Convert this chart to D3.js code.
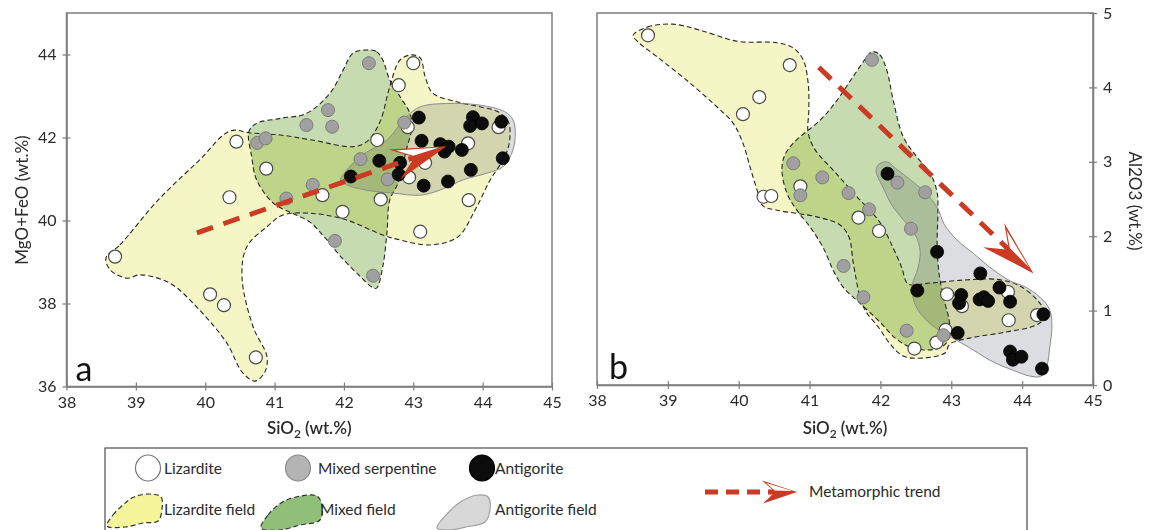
<!DOCTYPE html>
<html>
<head>
<meta charset="utf-8">
<script src="https://cdn.jsdelivr.net/npm/d3@7"></script>
<style>
  body { margin: 0; background: #fff; }
  svg { display: block; font-family: Lato, "Open Sans", "DejaVu Sans", sans-serif; }
</style>
</head>
<body>
<svg id="chart" width="1150" height="530"></svg>
<script>
// ---- axis ticks ----
const xTicks = [38, 39, 40, 41, 42, 43, 44, 45];
const yTicksA = [36, 38, 40, 42, 44];
const yTicksB = [0, 1, 2, 3, 4, 5];

// ---- panel a: SiO2 vs MgO+FeO (wt.%) ----
const lizarditeA = [[38.70,39.13],[40.07,38.22],[40.27,37.96],[40.73,36.70],[40.45,41.90],[40.88,41.25],
  [40.35,40.56],[41.69,40.61],[41.98,40.21],[42.48,41.94],[42.53,40.51],[43.00,43.79],[42.79,43.26],
  [42.92,42.25],[43.17,41.39],[42.94,41.04],[43.79,41.86],[44.23,42.25],[43.80,40.49],[43.10,39.73]];
const mixedA = [[42.36,43.79],[41.77,42.66],[41.46,42.30],[41.83,42.26],[40.75,41.87],[40.87,41.98],
  [42.87,42.36],[42.24,41.48],[41.55,40.86],[41.17,40.53],[42.63,40.99],[41.87,39.51],[42.42,38.67]];
const antigoriteA = [[42.10,41.06],[42.51,41.44],[42.81,41.39],[42.79,41.11],[43.08,42.48],[43.12,41.92],
  [43.39,41.84],[43.45,41.66],[43.51,41.78],[43.70,41.70],[43.86,42.49],[43.82,42.28],[43.99,42.34],
  [44.27,42.38],[44.29,41.50],[43.83,41.22],[43.15,40.84],[43.50,40.94]];

const lizarditeFieldA = [[38.57,39.10],[38.77,39.41],[39.32,40.49],[39.92,41.46],[40.36,42.16],[40.65,42.11],
  [41.08,42.06],[41.54,41.94],[42.13,41.78],[42.33,41.90],[42.52,42.38],[42.66,43.22],[42.81,43.87],
  [42.98,43.99],[43.10,43.92],[43.17,43.47],[43.28,43.07],[43.63,42.86],[43.96,42.74],[44.22,42.62],
  [44.37,42.38],[44.39,41.94],[44.32,41.54],[44.11,40.98],[43.89,40.25],[43.64,39.60],[43.24,39.41],
  [42.81,39.53],[42.56,39.65],[42.04,40.01],[41.55,40.17],[41.12,40.13],[40.89,39.85],[40.60,39.37],
  [40.53,38.65],[40.69,37.44],[40.89,36.72],[40.86,36.35],[40.72,36.13],[40.54,36.33],[40.31,37.05],
  [39.92,37.84],[39.49,38.49],[39.06,38.69],[38.87,38.61],[38.63,38.81]];
const mixedFieldA = [[42.33,44.11],[42.47,44.07],[42.56,43.87],[42.66,43.39],[42.81,42.98],[42.95,42.59],
  [42.98,42.26],[42.90,41.70],[42.78,40.90],[42.66,40.49],[42.62,39.70],[42.56,38.89],[42.47,38.37],
  [42.40,38.40],[42.23,38.66],[41.97,39.10],[41.73,39.58],[41.51,39.96],[41.22,40.20],[40.98,40.42],
  [40.74,40.98],[40.67,41.54],[40.63,42.14],[40.74,42.34],[41.08,42.46],[41.46,42.58],[41.80,43.07],
  [41.99,43.63],[42.13,44.03]];
const antigoriteFieldA = [[41.97,41.06],[42.23,41.54],[42.62,41.94],[42.90,42.50],[43.10,42.74],[43.48,42.82],
  [43.96,42.78],[44.32,42.62],[44.44,42.42],[44.47,42.02],[44.42,41.62],[44.30,41.30],[44.06,41.14],
  [43.72,40.98],[43.38,40.73],[43.10,40.61],[42.71,40.66],[42.33,40.73],[42.04,40.86],[41.95,40.98]];
const trendA = [[39.88,39.70],[43.48,41.79]];

// ---- panel b: SiO2 vs Al2O3 (wt.%) ----
const lizarditeB = [[38.72,4.70],[40.72,4.30],[40.29,3.87],[40.06,3.64],[40.35,2.53],[40.46,2.54],[40.87,2.67],
  [41.69,2.25],[41.98,2.07],[42.94,1.22],[43.80,1.25],[43.81,0.87],[44.21,0.94],[42.48,0.49],[42.79,0.57],
  [42.92,0.74],[43.15,1.06]];
const mixedB = [[40.77,2.98],[41.18,2.79],[40.87,2.55],[41.55,2.58],[41.88,4.37],[42.24,2.72],[42.63,2.59],
  [41.84,2.36],[42.43,2.10],[41.48,1.60],[41.76,1.18],[42.37,0.73],[42.89,0.67]];
const antigoriteB = [[42.10,2.84],[42.80,1.79],[43.41,1.50],[43.68,1.31],[43.83,1.12],[42.52,1.27],[43.14,1.21],
  [43.11,1.10],[43.40,1.15],[43.46,1.18],[43.52,1.13],[44.30,0.95],[43.09,0.70],[43.83,0.45],[43.87,0.34],
  [43.99,0.38],[44.28,0.22]];

const lizarditeFieldB = [[38.51,4.70],[38.71,4.81],[39.07,4.85],[39.45,4.77],[39.98,4.62],[40.54,4.60],
  [40.77,4.53],[40.91,4.37],[40.98,4.06],[40.99,3.70],[40.98,3.39],[41.08,3.16],[41.36,2.86],[41.67,2.53],
  [41.99,2.19],[42.18,1.84],[42.30,1.58],[42.39,1.36],[42.70,1.37],[43.17,1.41],[43.64,1.42],[43.97,1.33],
  [44.25,1.10],[44.33,0.93],[44.21,0.81],[43.76,0.71],[43.26,0.63],[42.98,0.55],[42.91,0.43],[42.56,0.36],
  [42.32,0.39],[42.13,0.56],[41.97,0.78],[41.80,0.98],[41.71,1.18],[41.66,1.41],[41.61,1.68],[41.56,1.98],
  [41.43,2.15],[41.10,2.26],[40.54,2.35],[40.34,2.41],[40.26,2.62],[40.16,2.93],[40.06,3.25],[39.92,3.52],
  [39.69,3.74],[39.31,4.06],[38.85,4.41],[38.58,4.61]];
const mixedFieldB = [[41.88,4.48],[41.99,4.44],[42.09,4.23],[42.18,3.83],[42.32,3.34],[42.51,3.07],[42.70,2.85],
  [42.80,2.59],[42.81,2.28],[42.80,1.88],[42.83,1.48],[42.90,1.14],[42.97,0.87],[42.98,0.66],[42.88,0.52],
  [42.67,0.47],[42.42,0.51],[42.21,0.63],[41.99,0.85],[41.71,1.10],[41.47,1.32],[41.33,1.55],[41.19,1.85],
  [41.01,2.12],[40.82,2.35],[40.68,2.58],[40.61,2.89],[40.65,3.09],[40.79,3.27],[41.15,3.56],[41.39,3.83],
  [41.61,4.14],[41.81,4.41]];
const antigoriteFieldB = [[41.97,2.96],[42.09,3.00],[42.23,2.90],[42.42,2.76],[42.63,2.59],[42.80,2.39],
  [42.90,2.16],[43.08,1.95],[43.31,1.77],[43.59,1.55],[43.83,1.40],[44.04,1.32],[44.25,1.18],[44.39,1.01],
  [44.42,0.78],[44.39,0.51],[44.35,0.26],[44.27,0.12],[44.11,0.12],[43.87,0.20],[43.59,0.31],[43.31,0.47],
  [43.08,0.60],[42.87,0.71],[42.67,0.85],[42.49,1.08],[42.45,1.34],[42.53,1.57],[42.56,1.81],[42.49,2.02],
  [42.35,2.19],[42.16,2.42],[42.02,2.69],[41.94,2.86]];
const trendB = [[41.13,4.27],[44.16,1.50]];

// ---- legend text ----
const pointLabels = ["Lizardite", "Mixed serpentine", "Antigorite"];
const fieldLabels = ["Lizardite field", "Mixed field", "Antigorite field"];
const trendLabel = "Metamorphic trend";

// ---- styling ----
const C = {
  yellow: "#f5f6c6", green: "#c6dcb0", gray: "#dcdde0",
  yellowLegend: "#f4f59b", greenLegend: "#8fbf78", grayLegend: "#d8d8d8",
  red: "#cb3a22", frame: "#7d7d7d", text: "#2b2b2b"
};

const svg = d3.select("#chart");
svg.append("rect").attr("width", 1150).attr("height", 530).attr("fill", "#fff");

const smooth = d3.curveCatmullRomClosed.alpha(0.5);

function drawArrow(g, x0, y0, x1, y1, L, w, n, dash, sw) {
  const ang = Math.atan2(y1 - y0, x1 - x0);
  const c = Math.cos(ang), s = Math.sin(ang);
  const pt = (a, b) => [x1 + a * c - b * s, y1 + a * s + b * c];
  const end = pt(-n + 3, 0);
  g.append("line")
    .attr("x1", x0).attr("y1", y0).attr("x2", end[0]).attr("y2", end[1])
    .attr("stroke", C.red).attr("stroke-width", sw).attr("stroke-dasharray", dash);
  g.append("path")
    .attr("d", d3.line()([pt(0, 0), pt(-L, -w), pt(-n, 0), pt(-L * 0.97, w)]) + "Z")
    .attr("fill", C.red);
  g.append("path")
    .attr("d", d3.line()([pt(-L * 0.13, -w * 0.08), pt(-L * 0.88, -w * 0.78), pt(-n * 1.02, -w * 0.12)]) + "Z")
    .attr("fill", "#fff");
}

function drawPanel(p) {
  const x = d3.scaleLinear().domain([38, 45]).range(p.xRange);
  const y = d3.scaleLinear().domain(p.yDomain).range(p.yRange);
  const g = svg.append("g");
  const shape = d3.line().x(d => x(d[0])).y(d => y(d[1])).curve(smooth);

  // field fills (multiplied so overlaps darken)
  const fills = g.append("g");
  [[p.lizField, C.yellow], [p.mixField, C.green], [p.antField, C.gray]].forEach(([f, col]) => {
    fills.append("path").attr("d", shape(f)).attr("fill", col).style("mix-blend-mode", "multiply");
  });
  // field outlines
  [p.lizField, p.mixField].forEach(f => {
    g.append("path").attr("d", shape(f)).attr("fill", "none")
      .attr("stroke", "#262626").attr("stroke-width", 1.1).attr("stroke-dasharray", "5,3");
  });
  g.append("path").attr("d", shape(p.antField)).attr("fill", "none")
    .attr("stroke", "#8c8c8c").attr("stroke-width", 1);

  // frame
  g.append("rect")
    .attr("x", p.xRange[0]).attr("y", p.yRange[1])
    .attr("width", p.xRange[1] - p.xRange[0]).attr("height", p.yRange[0] - p.yRange[1])
    .attr("fill", "none").attr("stroke", C.frame).attr("stroke-width", 1.5);

  // axes
  const fmt = d3.format("d");
  const xa = g.append("g").attr("transform", `translate(0,${p.yRange[0]})`)
    .call(d3.axisBottom(x).tickValues(xTicks).tickFormat(fmt)
      .tickSizeInner(4).tickSizeOuter(0).tickPadding(6));
  xa.selectAll(".tick line").attr("y1", -4).attr("y2", 4);
  const yAxis = p.ySide === "left" ? d3.axisLeft(y) : d3.axisRight(y);
  const yx = p.ySide === "left" ? p.xRange[0] : p.xRange[1];
  const ya = g.append("g").attr("transform", `translate(${yx},0)`)
    .call(yAxis.tickValues(p.yTicks).tickFormat(fmt)
      .tickSizeInner(4).tickSizeOuter(0).tickPadding(6));
  ya.selectAll(".tick line").attr("x1", -4).attr("x2", 4);
  [xa, ya].forEach(a => {
    a.select(".domain").attr("stroke", C.frame).attr("stroke-width", 1.5);
    a.selectAll(".tick line").attr("stroke", C.frame).attr("stroke-width", 1.2);
    a.selectAll(".tick text").attr("fill", C.text).style("font-size", "16px")
      .style("font-family", "Lato, 'Open Sans', sans-serif");
  });

  // points
  const r = 6.5;
  g.append("g").selectAll("circle").data(p.liz).join("circle")
    .attr("cx", d => x(d[0])).attr("cy", d => y(d[1])).attr("r", r)
    .attr("fill", "#fff").attr("stroke", "#4a4a4a").attr("stroke-width", 1.2);
  g.append("g").selectAll("circle").data(p.mix).join("circle")
    .attr("cx", d => x(d[0])).attr("cy", d => y(d[1])).attr("r", r)
    .attr("fill", "#a0a0a0").attr("stroke", "#7c7c7c").attr("stroke-width", 1);
  g.append("g").selectAll("circle").data(p.ant).join("circle")
    .attr("cx", d => x(d[0])).attr("cy", d => y(d[1])).attr("r", r)
    .attr("fill", "#0c0c0c").attr("stroke", "#000").attr("stroke-width", 0.8);

  // metamorphic trend
  drawArrow(g, x(p.trend[0][0]), y(p.trend[0][1]), x(p.trend[1][0]), y(p.trend[1][1]), 56, 16, 34, "17,11", 5);

  // panel letter
  g.append("text").attr("x", p.xRange[0] + p.letterDx).attr("y", p.yRange[0] - 6)
    .attr("fill", "#111").style("font-size", "34px").text(p.letter);

  // x title
  const xt = g.append("text").attr("x", (p.xRange[0] + p.xRange[1]) / 2).attr("y", 434)
    .attr("text-anchor", "middle").attr("fill", C.text)
    .style("font-size", "17px").style("font-weight", "600");
  xt.append("tspan").text("SiO");
  xt.append("tspan").attr("dy", 4).style("font-size", "12px").text("2");
  xt.append("tspan").attr("dy", -4).text(" (wt.%)");
}

drawPanel({
  xRange: [66.5, 552], yDomain: [36, 45], yRange: [386.5, 13], yTicks: yTicksA, ySide: "left",
  liz: lizarditeA, mix: mixedA, ant: antigoriteA,
  lizField: lizarditeFieldA, mixField: mixedFieldA, antField: antigoriteFieldA,
  trend: trendA, letter: "a", letterDx: 9
});
drawPanel({
  xRange: [597, 1093], yDomain: [0, 5], yRange: [385, 13], yTicks: yTicksB, ySide: "right",
  liz: lizarditeB, mix: mixedB, ant: antigoriteB,
  lizField: lizarditeFieldB, mixField: mixedFieldB, antField: antigoriteFieldB,
  trend: trendB, letter: "b", letterDx: 12
});

// y titles
svg.append("text").attr("transform", "translate(28,200) rotate(-90)")
  .attr("text-anchor", "middle").attr("fill", C.text).style("font-size", "17px")
  .text("MgO+FeO (wt.%)");
svg.append("text").attr("transform", "translate(1129,201) rotate(90)")
  .attr("text-anchor", "middle").attr("fill", C.text).style("font-size", "17px")
  .text("Al2O3 (wt.%)");

// ---- legend ----
const lg = svg.append("g");
lg.append("rect").attr("x", 105).attr("y", 448).attr("width", 922).attr("height", 100)
  .attr("fill", "#fff").attr("stroke", "#5a5a5a").attr("stroke-width", 1.3);

const markerStyles = [
  { fill: "#fff", stroke: "#777" },
  { fill: "#b4b4b4", stroke: "#8a8a8a" },
  { fill: "#0c0c0c", stroke: "#000" }
];
const rowX = [[148, 164], [298, 318], [482, 495]];
pointLabels.forEach((t, i) => {
  lg.append("ellipse").attr("cx", rowX[i][0]).attr("cy", 468).attr("rx", 12.5).attr("ry", 13)
    .attr("fill", markerStyles[i].fill).attr("stroke", markerStyles[i].stroke).attr("stroke-width", 1.2);
  lg.append("text").attr("x", rowX[i][1]).attr("y", 474).attr("fill", C.text)
    .style("font-size", "15.5px").text(t);
});

const glyphs = [
  { pts: [[107,526],[113,515],[123,505],[134,497],[150,494],[161,497],[162,509],[158,521],[143,523],[125,527]],
    fill: C.yellowLegend, stroke: "#333", dash: "5,3", tx: 164 },
  { pts: [[261,528],[268,515],[281,503],[296,497],[317,496],[322,506],[320,520],[300,525],[280,530]],
    fill: C.greenLegend, stroke: "#333", dash: "5,3", tx: 320 },
  { pts: [[437,528],[447,514],[462,501],[478,495],[488,497],[490,510],[485,522],[466,527],[450,530]],
    fill: C.grayLegend, stroke: "#a0a0a0", dash: null, tx: 495 }
];
fieldLabels.forEach((t, i) => {
  const gl = glyphs[i];
  lg.append("path").attr("d", d3.line().curve(smooth)(gl.pts))
    .attr("fill", gl.fill).attr("stroke", gl.stroke).attr("stroke-width", 1.2)
    .attr("stroke-dasharray", gl.dash);
  lg.append("text").attr("x", gl.tx).attr("y", 515).attr("fill", C.text)
    .style("font-size", "15.5px").text(t);
});

drawArrow(lg, 705, 492, 797, 492, 35, 11.5, 22, "13,8", 5);
lg.append("text").attr("x", 809).attr("y", 497).attr("fill", C.text)
  .style("font-size", "15.5px").text(trendLabel);
</script>
</body>
</html>
